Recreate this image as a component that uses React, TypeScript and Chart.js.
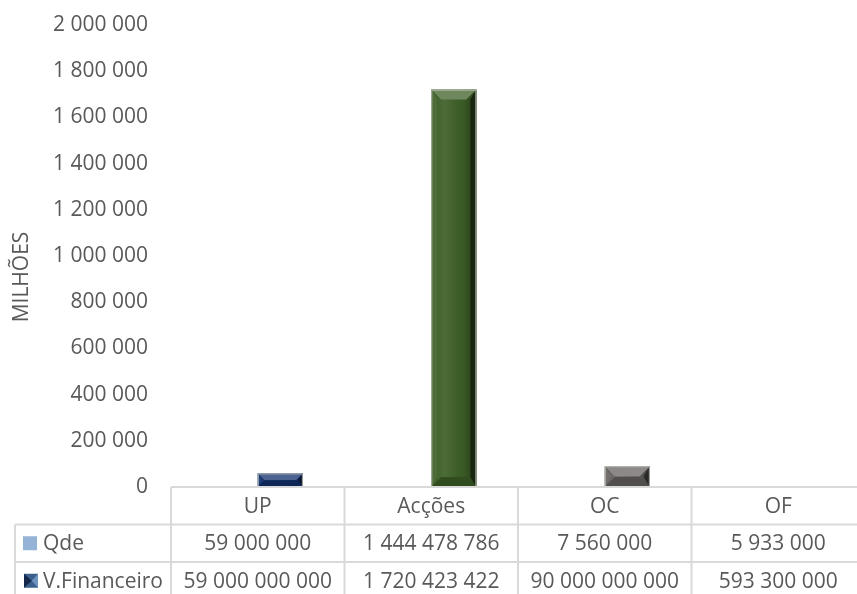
import React, { useEffect, useRef } from "react";
import { Chart, registerables } from "chart.js";

Chart.register(...registerables);

// ---- data ----
const categories = ["UP", "Acções", "OC", "OF"];
const seriesNames = ["Qde", "V.Financeiro"];
// values plotted on the axis (in millions)
const qdeMillions = [59, 1444.478786, 7.56, 5.933];
const vFinMillions = [59000, 1720423.422, 90000, 593.3];
// values shown in the data table
const qdeLabels = ["59 000 000", "1 444 478 786", "7 560 000", "5 933 000"];
const vFinLabels = ["59 000 000 000", "1 720 423 422", "90 000 000 000", "593 300 000"];
const yMax = 2000000;
const yStep = 200000;
const axisTitle = "MILHÕES";

// ---- style ----
const FONT = "'Open Sans', sans-serif";
const TEXT = "#595959";
const GRID = "#d9d9d9";
const qdeColor = "#95b3d7";
const barColors = ["#12306e", "#3d5f27", "#676262", "#7a2a2a"];

const fmt = (v: number) => String(Math.round(v)).replace(/\B(?=(\d{3})+(?!\d))/g, " ");

function shade(hex: string, amt: number) {
  const n = parseInt(hex.slice(1), 16);
  let r = (n >> 16) & 255, g = (n >> 8) & 255, b = n & 255;
  const f = (c: number) => Math.max(0, Math.min(255, Math.round(amt >= 0 ? c + (255 - c) * amt : c * (1 + amt))));
  return `rgb(${f(r)},${f(g)},${f(b)})`;
}

const bevelPlugin = {
  id: "bevel",
  afterDatasetsDraw(chart: any) {
    const ctx = chart.ctx;
    const meta = chart.getDatasetMeta(1);
    meta.data.forEach((el: any, i: number) => {
      const { x, y, base, width } = el.getProps(["x", "y", "base", "width"], true);
      const l = x - width / 2, r = x + width / 2, t = Math.min(y, base), b = Math.max(y, base);
      const h = b - t;
      if (h < 2) return;
      const c = barColors[i % barColors.length];
      const bv = Math.min(10, h / 2);
      ctx.save();
      const g = ctx.createLinearGradient(l, 0, r, 0);
      g.addColorStop(0, "rgba(255,255,255,0.0)");
      g.addColorStop(0.3, "rgba(255,255,255,0.08)");
      g.addColorStop(0.7, "rgba(0,0,0,0.05)");
      g.addColorStop(1, "rgba(0,0,0,0.35)");
      ctx.fillStyle = g;
      ctx.fillRect(l, t, width, h);
      ctx.fillStyle = shade(c, 0.25);
      ctx.beginPath();
      ctx.moveTo(l, t); ctx.lineTo(r, t); ctx.lineTo(r - bv, t + bv); ctx.lineTo(l + bv, t + bv); ctx.closePath();
      ctx.fill();
      ctx.fillStyle = shade(c, 0.08);
      ctx.beginPath();
      ctx.moveTo(l, t); ctx.lineTo(l + bv * 0.6, t + bv); ctx.lineTo(l + bv * 0.6, b - bv); ctx.lineTo(l, b); ctx.closePath();
      ctx.fill();
      ctx.fillStyle = shade(c, -0.6);
      ctx.beginPath();
      ctx.moveTo(r, t); ctx.lineTo(r - bv * 0.6, t + bv); ctx.lineTo(r - bv * 0.6, b - bv); ctx.lineTo(r, b); ctx.closePath();
      ctx.fill();
      ctx.fillStyle = shade(c, -0.2);
      ctx.beginPath();
      ctx.moveTo(l, b); ctx.lineTo(r, b); ctx.lineTo(r - bv, b - bv); ctx.lineTo(l + bv, b - bv); ctx.closePath();
      ctx.fill();
      ctx.strokeStyle = "rgba(190,195,185,0.9)";
      ctx.lineWidth = 1;
      ctx.strokeRect(l + 0.5, t + 0.5, width - 1, h - 1);
      ctx.restore();
    });
  },
  afterDraw(chart: any) {
    const ctx = chart.ctx;
    const ca = chart.chartArea;
    const n = categories.length;
    const colW = (ca.right - ca.left) / n;
    const rowH = 37.5;
    const top = ca.bottom;
    const tableLeft = 15;
    ctx.save();
    ctx.strokeStyle = GRID;
    ctx.lineWidth = 2;
    const line = (x1: number, y1: number, x2: number, y2: number) => {
      ctx.beginPath(); ctx.moveTo(x1, y1); ctx.lineTo(x2, y2); ctx.stroke();
    };
    line(ca.left, top, ca.right, top);
    for (let r = 1; r <= 3; r++) line(tableLeft, top + r * rowH, ca.right, top + r * rowH);
    for (let i = 0; i <= n; i++) {
      const x = ca.left + i * colW;
      line(x, top, x, top + 3 * rowH);
    }
    line(tableLeft, top + rowH, tableLeft, top + 3 * rowH);

    ctx.fillStyle = TEXT;
    ctx.font = `21px ${FONT}`;
    ctx.textAlign = "center";
    ctx.textBaseline = "middle";
    categories.forEach((c, i) => {
      const cx = ca.left + (i + 0.5) * colW;
      ctx.fillText(c, cx, top + rowH / 2 + 1);
      ctx.fillText(qdeLabels[i], cx, top + rowH * 1.5 + 1);
      ctx.fillText(vFinLabels[i], cx, top + rowH * 2.5 + 1);
    });

    ctx.textAlign = "left";
    const y1 = top + rowH * 1.5;
    const y2 = top + rowH * 2.5;
    ctx.fillStyle = qdeColor;
    ctx.fillRect(23, y1 - 7, 14, 14);
    const kx = 24, ky = y2 - 7, ks = 14;
    ctx.fillStyle = "#3a5f8c";
    ctx.fillRect(kx, ky, ks, ks);
    ctx.fillStyle = "#13284a";
    ctx.beginPath(); ctx.moveTo(kx, ky); ctx.lineTo(kx + ks * 0.55, ky + ks / 2); ctx.lineTo(kx, ky + ks); ctx.closePath(); ctx.fill();
    ctx.fillStyle = "#6d93c0";
    ctx.beginPath(); ctx.moveTo(kx + ks, ky); ctx.lineTo(kx + ks * 0.55, ky + ks / 2); ctx.lineTo(kx + ks, ky + ks); ctx.closePath(); ctx.fill();
    ctx.fillStyle = TEXT;
    ctx.fillText(seriesNames[0], 43, y1 + 1);
    ctx.fillText(seriesNames[1], 43, y2 + 1);

    ctx.save();
    ctx.translate(22, 277);
    ctx.rotate(-Math.PI / 2);
    ctx.textAlign = "center";
    ctx.fillText(axisTitle, 0, 0);
    ctx.restore();
    ctx.restore();
  },
};

export default function App() {
  const ref = useRef<HTMLCanvasElement | null>(null);
  useEffect(() => {
    if (!ref.current) return;
    const chart = new Chart(ref.current, {
      type: "bar",
      data: {
        labels: categories,
        datasets: [
          {
            label: seriesNames[0],
            data: qdeMillions,
            backgroundColor: qdeColor,
            categoryPercentage: 0.52,
            barPercentage: 1,
          },
          {
            label: seriesNames[1],
            data: vFinMillions,
            backgroundColor: barColors,
            categoryPercentage: 0.52,
            barPercentage: 1,
          },
        ],
      },
      options: {
        animation: false,
        responsive: false,
        layout: { padding: { top: 25, bottom: 107, left: 0, right: 0 } },
        plugins: { legend: { display: false }, tooltip: { enabled: false }, title: { display: false } },
        scales: {
          x: { display: false },
          y: {
            min: 0,
            max: yMax,
            border: { display: false },
            grid: { display: false, drawTicks: false },
            ticks: {
              stepSize: yStep,
              padding: 23,
              color: TEXT,
              font: { family: FONT, size: 21 },
              callback: (v: any) => fmt(Number(v)),
            },
            afterFit: (scale: any) => {
              scale.width = 171;
              scale.paddingTop = 0;
              scale.paddingBottom = 0;
            },
          },
        },
      },
      plugins: [bevelPlugin],
    });
    return () => chart.destroy();
  }, []);
  return (
    <div style={{ position: "fixed", left: 0, top: 0, width: 857, height: 594, overflow: "hidden", background: "#fff" }}>
      <canvas ref={ref} width={865} height={594} style={{ width: 865, height: 594, display: "block" }} />
    </div>
  );
}
